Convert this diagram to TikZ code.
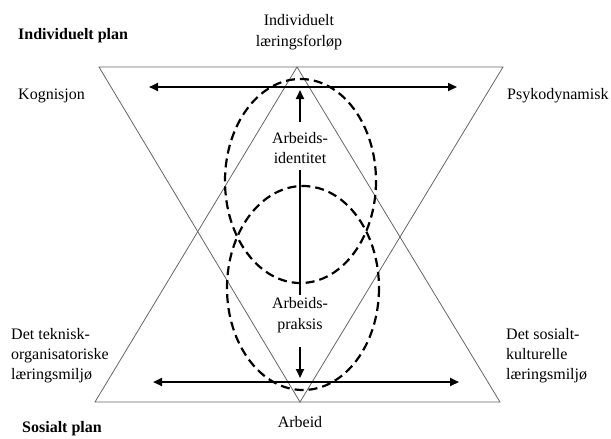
\documentclass[tikz,border=0pt]{standalone}
\usepackage{fontspec}
\setmainfont{Liberation Serif}
\usetikzlibrary{arrows.meta}
\begin{document}
\begin{tikzpicture}[x=1pt,y=-1pt,
  tri/.style={draw=black!60, line width=0.8pt},
  ell/.style={draw=black, line width=2.2pt, dash pattern=on 9pt off 5pt},
  arr/.style={draw=black, line width=2.2pt, -{Triangle[length=9pt,width=8pt]}},
  darr/.style={draw=black, line width=2.2pt, {Triangle[length=9pt,width=8pt]}-{Triangle[length=9pt,width=8pt]}},
  vline/.style={draw=black, line width=2pt},
  lbl/.style={font=\fontsize{16}{20.5}\selectfont, inner sep=0pt, align=center},
  lbll/.style={font=\fontsize{16}{20}\selectfont, inner sep=0pt, align=left, anchor=west},
  lblb/.style={font=\fontsize{16}{20}\selectfont\bfseries, inner sep=0pt, anchor=west}]
\useasboundingbox (0,0) rectangle (611,439);
% triangles
\coordinate (itl) at (99,67);
\coordinate (itr) at (503,67);
\coordinate (itb) at (300,402);
\coordinate (utl) at (95,402);
\coordinate (utr) at (500,402);
\coordinate (utt) at (297,67);
\draw[tri] (itl) -- (itr) -- (itb) -- cycle;
\draw[tri] (utl) -- (utr) -- (utt) -- cycle;
% ellipses
\coordinate (eu) at (300.5,181);
\coordinate (el) at (303,288);
\draw[ell] (eu) ellipse [x radius=75.5, y radius=102];
\draw[ell] (el) ellipse [x radius=76, y radius=102];
% labels
\node[lblb] (ip) at (18,36) {Individuelt plan};
\node[lblb] (sp) at (22,429) {Sosialt plan};
\node[lbl] (ilf) at (299,32) {Individuelt\\læringsforløp};
\node[lbll] (kog) at (18,96) {Kognisjon};
\node[lbll] (psy) at (507,96) {Psykodynamisk};
\node[lbl] (aid) at (300,148) {Arbeids-\\identitet};
\node[lbl] (apr) at (300,315) {Arbeids-\\praksis};
\node[lbl] (arb) at (300,422) {Arbeid};
\node[lbll] (tek) at (11,356) {Det teknisk-\\organisatoriske\\læringsmiljø};
\node[lbll] (sos) at (506,356) {Det sosialt-\\kulturelle\\læringsmiljø};
% arrows
\coordinate (hl) at (149,87);
\coordinate (hr) at (457,87);
\draw[darr] (hl) -- (hr);
\coordinate (bl) at (153,382);
\coordinate (br) at (459,382);
\draw[darr] (bl) -- (br);
\coordinate (ua1) at (300,122);
\coordinate (ua2) at (300,90);
\draw[arr] (ua1) -- (ua2);
\coordinate (vl1) at (300,170);
\coordinate (vl2) at (300,295);
\draw[vline] (vl1) -- (vl2);
\coordinate (da1) at (300,347);
\coordinate (da2) at (300,378);
\draw[arr] (da1) -- (da2);
\end{tikzpicture}
\end{document}
